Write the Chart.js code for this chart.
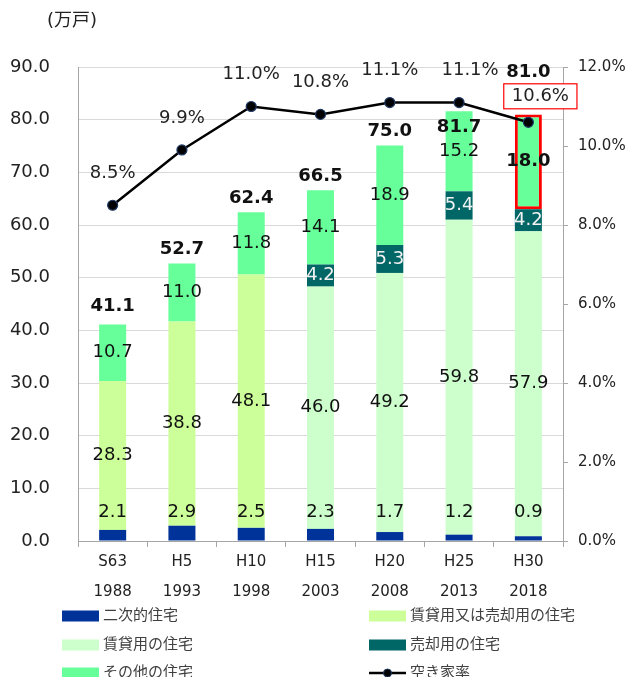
<!DOCTYPE html>
<html lang="ja">
<head>
<meta charset="utf-8">
<title>空き家数と空き家率</title>
<script src="https://cdn.jsdelivr.net/npm/chart.js@4.4.1/dist/chart.umd.min.js"></script>
<style>
  html, body { margin: 0; padding: 0; background: #fff; }
</style>
</head>
<body>
<canvas id="akiyaChart" width="626" height="677"></canvas>
<script>
// 調査年（和暦・西暦）
const warekiLabels = ['S63', 'H5', 'H10', 'H15', 'H20', 'H25', 'H30'];
const yearLabels = ['1988', '1993', '1998', '2003', '2008', '2013', '2018'];

// 空き家の内訳（万戸）
const nijiteki = [2.1, 2.9, 2.5, 2.3, 1.7, 1.2, 0.9];
const chintaiBaikyaku = [28.3, 38.8, 48.1, null, null, null, null];
const chintai = [null, null, null, 46.0, 49.2, 59.8, 57.9];
const baikyaku = [null, null, null, 4.2, 5.3, 5.4, 4.2];
const sonota = [10.7, 11.0, 11.8, 14.1, 18.9, 15.2, 18.0];

// 空き家総数（万戸）と空き家率（%）
const totals = [41.1, 52.7, 62.4, 66.5, 75.0, 81.7, 81.0];
const akiyaRitsu = [8.5, 9.9, 11.0, 10.8, 11.1, 11.1, 10.6];

// 目盛り
const leftTicks = [0, 10, 20, 30, 40, 50, 60, 70, 80, 90];
const rightTicks = [0, 2, 4, 6, 8, 10, 12];

const FONT = "'DejaVu Sans', 'Noto Sans CJK JP', sans-serif";
Chart.defaults.font.family = FONT;
Chart.defaults.color = '#222';

const last = warekiLabels.length - 1;

// 棒グラフ・折れ線のラベルを描くプラグイン
const labelPlugin = {
  id: 'akiyaLabels',
  afterDatasetsDraw(chart) {
    const ctx = chart.ctx;
    ctx.save();
    ctx.textAlign = 'center';
    ctx.textBaseline = 'middle';
    const tops = [];
    chart.data.datasets.forEach((ds, i) => {
      const meta = chart.getDatasetMeta(i);
      meta.data.forEach((el, j) => {
        const v = ds.data[j];
        if (v == null) return;
        const p = el.getProps(['x', 'y', 'base'], true);
        if (ds.type === 'line') {
          const txt = v.toFixed(1) + '%';
          ctx.font = '18px ' + FONT;
          ctx.fillStyle = '#222';
          let x = p.x, y = p.y - 32;
          if (j === 5) x += 11;
          if (j === last) {
            x += 12; y = p.y - 26;
            const w = ctx.measureText(txt).width + 16;
            ctx.strokeStyle = '#ff0000';
            ctx.lineWidth = 1.2;
            ctx.fillStyle = '#fff';
            ctx.fillRect(x - w / 2, y - 12.5, w, 25);
            ctx.strokeRect(x - w / 2, y - 12.5, w, 25);
            ctx.fillStyle = '#222';
          }
          ctx.fillText(txt, x, y);
          return;
        }
        tops[j] = tops[j] === undefined ? p.y : Math.min(tops[j], p.y);
        let y = (p.y + p.base) / 2;
        if (i === 0) y = p.base - 28;
        const bold = (i === 4 && j === last);
        ctx.font = (bold ? 'bold ' : '') + '18px ' + FONT;
        ctx.fillStyle = i === 3 ? '#f2f2f2' : '#111';
        ctx.fillText(v.toFixed(1), p.x, y);
      });
    });
    // 合計
    ctx.font = 'bold 18px ' + FONT;
    ctx.fillStyle = '#111';
    const xs = chart.getDatasetMeta(0).data;
    totals.forEach((t, j) => {
      let y = tops[j] - 14;
      if (j === 0) y = tops[j] - 18;
      if (j === 5) y = tops[j] + 16;
      if (j === last) y = tops[j] - 42;
      ctx.fillText(t.toFixed(1), xs[j].x, y);
    });
    ctx.restore();
  }
};

// 単位と凡例（2列）
const framePlugin = {
  id: 'akiyaFrame',
  afterDraw(chart) {
    const ctx = chart.ctx;
    ctx.save();
    ctx.font = '18px ' + FONT;
    ctx.fillStyle = '#222';
    ctx.textAlign = 'left';
    ctx.textBaseline = 'middle';
    ctx.fillText('(万戸)', 47, 21);

    const colX = [62, 369];
    const rowY = [616, 645, 673];
    ctx.font = '15px ' + FONT;
    chart.data.datasets.forEach((ds, i) => {
      const x = colX[i % 2], y = rowY[Math.floor(i / 2)];
      if (ds.type === 'line') {
        ctx.strokeStyle = '#000';
        ctx.lineWidth = 2.5;
        ctx.beginPath();
        ctx.moveTo(x, y); ctx.lineTo(x + 37, y);
        ctx.stroke();
        ctx.beginPath();
        ctx.arc(x + 18.5, y, 4, 0, Math.PI * 2);
        ctx.fillStyle = '#000';
        ctx.fill();
        ctx.strokeStyle = '#1f3864';
        ctx.lineWidth = 1;
        ctx.stroke();
      } else {
        ctx.fillStyle = ds.backgroundColor;
        ctx.fillRect(x, y - 5.5, 37, 11);
      }
      ctx.fillStyle = '#404040';
      ctx.fillText(ds.label, x + 41, y);
    });
    ctx.restore();
  }
};

new Chart(document.getElementById('akiyaChart'), {
  data: {
    labels: warekiLabels.map((w, i) => [w, yearLabels[i]]),
    datasets: [
      { type: 'bar', label: '二次的住宅', data: nijiteki, backgroundColor: '#003399', order: 1 },
      { type: 'bar', label: '賃貸用又は売却用の住宅', data: chintaiBaikyaku, backgroundColor: '#CCFF99', order: 1 },
      { type: 'bar', label: '賃貸用の住宅', data: chintai, backgroundColor: '#CCFFCC', order: 1 },
      { type: 'bar', label: '売却用の住宅', data: baikyaku, backgroundColor: '#006666', order: 1 },
      {
        type: 'bar', label: 'その他の住宅', data: sonota, backgroundColor: '#66FF99', order: 1,
        borderColor: '#ff0000',
        borderWidth: sonota.map((v, j) => j === last ? 3 : 0),
        borderSkipped: false
      },
      {
        type: 'line', label: '空き家率', data: akiyaRitsu, yAxisID: 'y1', order: 0,
        borderColor: '#000', borderWidth: 2.5,
        pointRadius: 5, pointBackgroundColor: '#000', pointBorderColor: '#1f3864', pointBorderWidth: 1.2
      }
    ]
  },
  options: {
    responsive: false,
    animation: false,
    datasets: { bar: { barPercentage: 0.39, categoryPercentage: 1 } },
    layout: { padding: { top: 67, bottom: 76, left: 0, right: 0 } },
    plugins: { legend: { display: false }, tooltip: { enabled: false } },
    scales: {
      x: {
        stacked: true,
        grid: { drawOnChartArea: false, drawTicks: true, tickLength: 6, color: '#a6a6a6', offset: true },
        border: { color: '#a6a6a6' },
        ticks: { font: { size: 15, lineHeight: '30px' }, padding: 0, maxRotation: 0, autoSkip: false },
        afterFit(s) { s.height = 60; }
      },
      y: {
        stacked: true,
        min: 0, max: 90,
        afterBuildTicks(s) { s.ticks = leftTicks.map(v => ({ value: v })); },
        ticks: { font: { size: 18 }, padding: 28, callback: v => v.toFixed(1) },
        grid: { color: '#d9d9d9', drawTicks: false },
        border: { color: '#a6a6a6' },
        afterFit(s) { s.width = 78; }
      },
      y1: {
        position: 'right',
        min: 0, max: 12,
        afterBuildTicks(s) { s.ticks = rightTicks.map(v => ({ value: v })); },
        ticks: { font: { size: 15 }, padding: 10, callback: v => v.toFixed(1) + '%' },
        grid: { drawOnChartArea: false, tickLength: 5, color: '#a6a6a6' },
        border: { color: '#a6a6a6' },
        afterFit(s) { s.width = 63; }
      }
    }
  },
  plugins: [labelPlugin, framePlugin]
});
</script>
</body>
</html>
